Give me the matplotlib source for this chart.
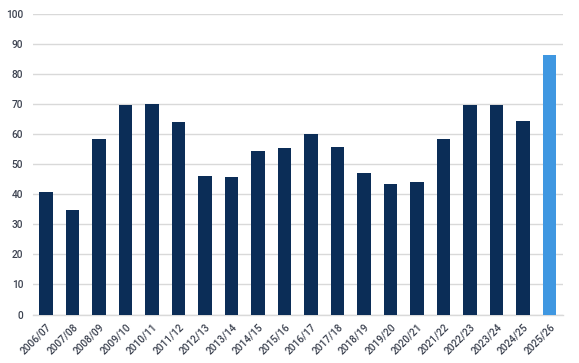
import matplotlib
matplotlib.use("Agg")
import matplotlib.pyplot as plt

categories = ["2006/07", "2007/08", "2008/09", "2009/10", "2010/11", "2011/12",
              "2012/13", "2013/14", "2014/15", "2015/16", "2016/17", "2017/18",
              "2018/19", "2019/20", "2020/21", "2021/22", "2022/23", "2023/24",
              "2024/25", "2025/26"]
values = [40.8, 34.9, 58.4, 69.7, 70.1, 64.1, 46.0, 45.8, 54.5, 55.4,
          60.1, 55.8, 47.3, 43.5, 44.1, 58.4, 69.7, 69.7, 64.5, 86.5]
y_ticks = [0, 10, 20, 30, 40, 50, 60, 70, 80, 90, 100]

plt.rcParams['font.family'] = ['Roboto', 'DejaVu Sans']

fig = plt.figure(figsize=(5.79, 3.63), dpi=100)
ax = fig.add_axes([0.057, 0.1336, 0.915, 0.827])

colors = ["#0b2d57"] * (len(values) - 1) + ["#3f97e1"]
x = list(range(len(categories)))
ax.bar(x, values, width=0.51, color=colors, zorder=3)

ax.set_xlim(-0.5, len(categories) - 0.5)
ax.set_ylim(0, 100)
ax.set_yticks(y_ticks)
ax.set_yticklabels([str(t) for t in y_ticks], fontsize=7.3, color="#3c4250",
                   fontweight="medium")
ax.set_xticks(x)
ax.set_xticklabels(categories, rotation=45, ha="right", rotation_mode="anchor",
                   fontsize=7.3, color="#3c4250", fontweight="medium")
ax.tick_params(axis="both", length=0)
ax.tick_params(axis="x", pad=5)
ax.tick_params(axis="y", pad=7)
ax.grid(axis="y", color="#d9d9d9", linewidth=1, zorder=0)
for s in ["top", "right", "left"]:
    ax.spines[s].set_visible(False)
ax.spines["bottom"].set_color("#d9d9d9")
ax.spines["bottom"].set_linewidth(1)

fig.savefig("out.png", dpi=100)
